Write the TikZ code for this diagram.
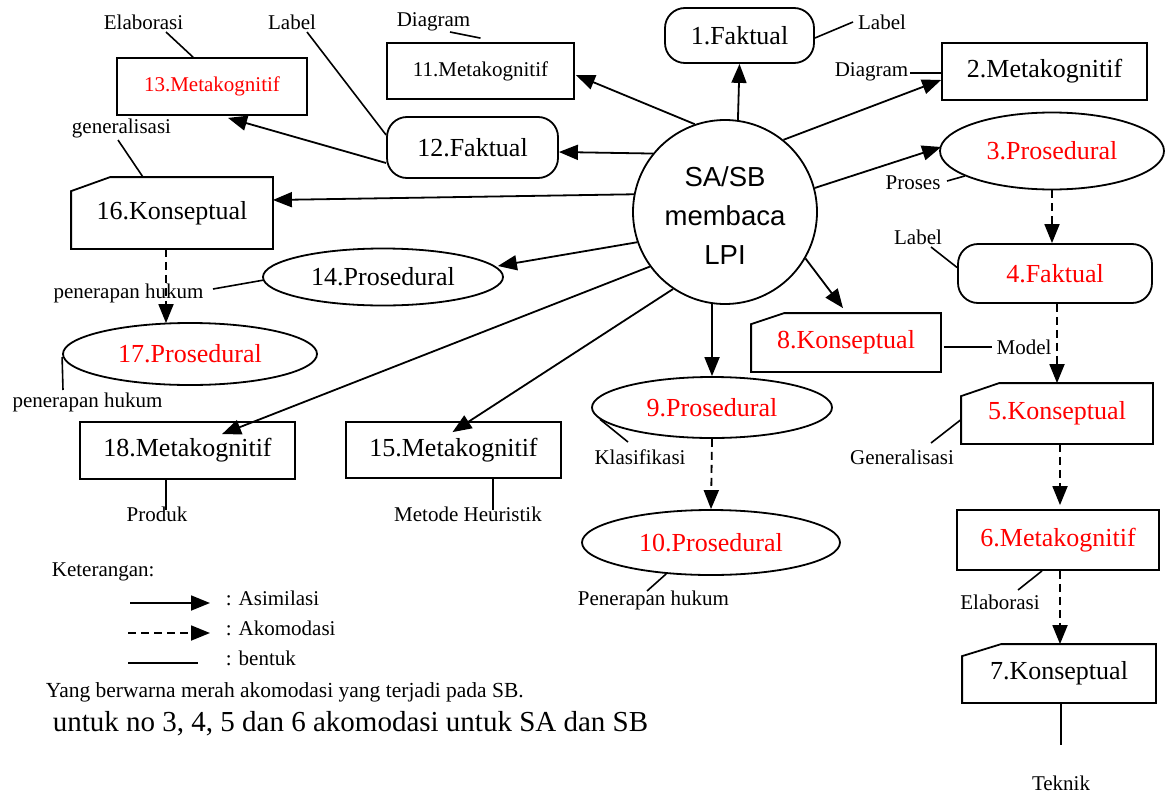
\documentclass[tikz,border=0pt]{standalone}
\usepackage{fontspec}
\setmainfont{Liberation Serif}
\newfontfamily\circfont{Liberation Sans}
\usetikzlibrary{shapes.geometric,arrows.meta,calc}
\definecolor{txtred}{RGB}{255,0,0}
\newcommand\cardline[3]{\draw[line width=1.8pt] (#1.south west) -- (#1.south east) -- (#1.north east) -- ($(#1.north west)+(#2,0)$) -- ($(#1.north west)+(0,#3)$) -- cycle;}
\begin{document}
\begin{tikzpicture}[x=1pt,y=-1pt,line width=1.8pt,
  big/.style={font=\fontsize{26}{30}\selectfont},
  small/.style={font=\fontsize{21}{25}\selectfont},
  lab/.style={font=\fontsize{21}{25}\selectfont, inner sep=0pt},
  rd/.style={text=txtred},
  boxn/.style={draw, rectangle, inner sep=0pt},
  roundn/.style={draw, rectangle, rounded corners=20pt, inner sep=0pt},
  ellin/.style={draw, ellipse, inner sep=0pt},
  cardn/.style={rectangle, inner sep=0pt},
  asim/.style={-{Triangle[length=19pt,width=15pt]}},
  akom/.style={dash pattern=on 8pt off 5pt, -{Triangle[length=19pt,width=15pt]}},
  bent/.style={line width=1.6pt}
]
\useasboundingbox (0,0) rectangle (1166,795);

% centre
\node[circle, draw, minimum size=184pt, inner sep=0pt] (c) at (725,212) {};
\node[inner sep=0pt, align=center, font=\circfont\fontsize{27.5}{39}\selectfont] (ct) at (725,216) {SA/SB\\membaca\\LPI};

% nodes
\node[roundn, big, minimum width=149pt, minimum height=55pt] (n1) at (739.5,35.5) {1.Faktual};
\node[boxn, big, minimum width=205pt, minimum height=57pt] (n2) at (1044.5,71.5) {2.Metakognitif};
\node[ellin, big, rd, minimum width=224pt, minimum height=77pt] (n3) at (1052,151) {3.Prosedural};
\node[roundn, big, rd, minimum width=194pt, minimum height=59pt] (n4) at (1055,273.5) {4.Faktual};
\node[cardn, big, rd, minimum width=190pt, minimum height=59pt] (n5) at (1057,413.5) {5.Konseptual};
\cardline{n5}{38}{13}
\node[boxn, big, rd, minimum width=202pt, minimum height=60pt] (n6) at (1058,540) {6.Metakognitif};
\node[cardn, big, minimum width=192pt, minimum height=57pt] (n7) at (1059,673.5) {7.Konseptual};
\cardline{n7}{39}{12}
\node[cardn, big, rd, minimum width=188pt, minimum height=57pt] (n8) at (846,342.5) {8.Konseptual};
\cardline{n8}{33}{11}
\node[ellin, big, rd, minimum width=240pt, minimum height=61pt] (n9) at (712,407.5) {9.Prosedural};
\node[ellin, big, rd, minimum width=258pt, minimum height=65pt] (n10) at (711,542.5) {10.Prosedural};
\node[boxn, small, minimum width=187pt, minimum height=56pt] (n11) at (480.5,71) {11.Metakognitif};
\node[roundn, big, minimum width=171pt, minimum height=61pt] (n12) at (472.5,147.5) {12.Faktual};
\node[boxn, small, rd, minimum width=190pt, minimum height=57pt] (n13) at (212,86.5) {13.Metakognitif};
\node[ellin, big, minimum width=240pt, minimum height=57pt] (n14) at (383,277) {14.Prosedural};
\node[boxn, big, minimum width=215pt, minimum height=56pt] (n15) at (453.5,450) {15.Metakognitif};
\node[cardn, big, minimum width=200pt, minimum height=70pt] (n16) at (172,213) {16.Konseptual};
\cardline{n16}{39}{14}
\node[ellin, big, rd, minimum width=254pt, minimum height=62pt] (n17) at (190,354) {17.Prosedural};
\node[boxn, big, minimum width=215pt, minimum height=57pt] (n18) at (187.5,450.5) {18.Metakognitif};

% labels
\node[lab] (l1) at (882,22) {Label};
\node[lab] (l2) at (871.5,72) {Diagram};
\node[lab] (l3) at (913,183) {Proses};
\node[lab] (l4) at (918,237) {Label};
\node[lab] (l5) at (1024,347) {Model};
\node[lab] (l6) at (902,457) {Generalisasi};
\node[lab] (l7) at (1000,602) {Elaborasi};
\node[lab] (l8) at (1061,783) {Teknik};
\node[lab] (l9) at (640,457) {Klasifikasi};
\node[lab] (l10) at (653.5,600) {Penerapan hukum};
\node[lab] (l11) at (433.5,22) {Diagram};
\node[lab] (l12) at (143.5,22) {Elaborasi};
\node[lab] (l13) at (292,22) {Label};
\node[lab] (l14) at (121.5,128) {generalisasi};
\node[lab] (l15) at (128.5,293) {penerapan hukum};
\node[lab] (l16) at (87.5,402) {penerapan hukum};
\node[lab] (l17) at (157,514) {Produk};
\node[lab] (l18) at (468,514) {Metode Heuristik};

% free ends of form lines
\coordinate (e1) at (853,22);
\coordinate (e2) at (910,73);
\coordinate (e3) at (947,181);
\coordinate (e4) at (931,247);
\coordinate (e5) at (992,347);
\coordinate (e6) at (931,443);
\coordinate (e7) at (1018,590);
\coordinate (e8) at (1061,745);
\coordinate (e9) at (628,442);
\coordinate (e10) at (647,591);
\coordinate (e11) at (450,32);
\coordinate (e12) at (166,32);
\coordinate (e13) at (307,32);
\coordinate (e14) at (118,140);
\coordinate (e15) at (213,289);
\coordinate (e16) at (63,390);
\coordinate (e17) at (166,510);
\coordinate (e18) at (493,510);

% form lines (bentuk)
\draw[bent] ($(n1.east)+(0,2.5)$) -- (e1);
\draw[bent] (e2) -- ($(n2.west)+(0,1.5)$);
\draw[bent] (e3) -- (n3.196);
\draw[bent] (e4) -- ($(n4.west)+(0,-6)$);
\draw[bent] ($(n8.east)+(3,4.5)$) -- (e5);
\draw[bent] (e6) -- ($(n5.west)+(0,6)$);
\draw[bent] ($(n6.south)+(-16,0)$) -- (e7);
\draw[bent] ($(n7.south)+(2,0)$) -- (e8);
\draw[bent] (n9.186.5) -- (e9);
\draw[bent] (n10.215) -- (e10);
\draw[bent] (e11) -- ($(n11.north)+(0,-4)$);
\draw[bent] (e12) -- ($(n13.north)+(-19,0)$);
\draw[bent] (e13) -- ($(n12.west)+(0,-12.5)$);
\draw[bent] (e14) -- ($(n16.north)+(-29,0)$);
\draw[bent] (e15) -- ($(n14.west)+(2,3)$);
\draw[bent] ($(n17.west)+(0,3)$) -- (e16);
\draw[bent] ($(n18.south)+(-21.5,0)$) -- (e17);
\draw[bent] ($(n15.south)+(39.5,0)$) -- (e18);

% assimilation arrows
\draw[asim] (c.82.4) -- (n1.south);
\draw[asim] (c.51.8) -- ($(n2.west)+(0,8.5)$);
\draw[asim] (c.15.5) -- ($(n3.west)+(2,-4)$);
\draw[asim] (c.-30) -- ($(n8.north)+(-3,-5)$);
\draw[asim] (c.262.5) -- (n9.north);
\draw[asim] (c.109.2) -- ($(n11.east)+(1,4)$);
\draw[asim] (c.141) -- ($(n12.east)+(0,4.5)$);
\draw[asim] (c.169) -- ($(n16.east)+(0,-13)$);
\draw[asim] (c.199) -- ($(n14.east)+(-6,-11)$);
\draw[asim] (c.236.5) -- ($(n15.north)+(-1,11)$);
\draw[asim] (c.216) -- ($(n18.north)+(34.5,13)$);
\draw[asim] ($(n12.west)+(0,15.5)$) -- ($(n13.south)+(16,2)$);

% accommodation arrows
\draw[akom] (n3.south) -- (n3.south |- n4.north);
\draw[akom] (n4.south -| n5.north) -- (n5.north);
\draw[akom] ($(n5.south)+(3,0)$) -- ($(n6.north)+(2,-4)$);
\draw[akom] ($(n6.south)+(2,0)$) -- ($(n7.north)+(1,0)$);
\draw[akom] (n9.south) -- (n10.north);
\draw[akom] ($(n16.south)+(-6,0)$) -- ($(n17.north)+(-24,1)$);

% legend
\node[lab, anchor=west] (k0) at (51,572) {Keterangan:};
\coordinate (a1) at (130,603); \coordinate (a2) at (210,603);
\coordinate (b1) at (128,633); \coordinate (b2) at (210,633);
\coordinate (d1) at (128,663); \coordinate (d2) at (198,663);
\draw[asim] (a1) -- (a2);
\draw[akom] (b1) -- (b2);
\draw[bent] (d1) -- (d2);
\node[lab, anchor=west] (k1) at (225,598) {: Asimilasi};
\node[lab, anchor=west] (k2) at (225,628) {: Akomodasi};
\node[lab, anchor=west] (k3) at (225,658) {: bentuk};
\node[inner sep=0pt, anchor=west, font=\fontsize{21.5}{25}\selectfont] (k4) at (45,692) {Yang berwarna merah akomodasi yang terjadi pada SB.};
\node[inner sep=0pt, anchor=west, font=\fontsize{29}{32}\selectfont] (k5) at (52,724) {untuk no 3, 4, 5 dan 6 akomodasi untuk SA dan SB};
\end{tikzpicture}
\end{document}
